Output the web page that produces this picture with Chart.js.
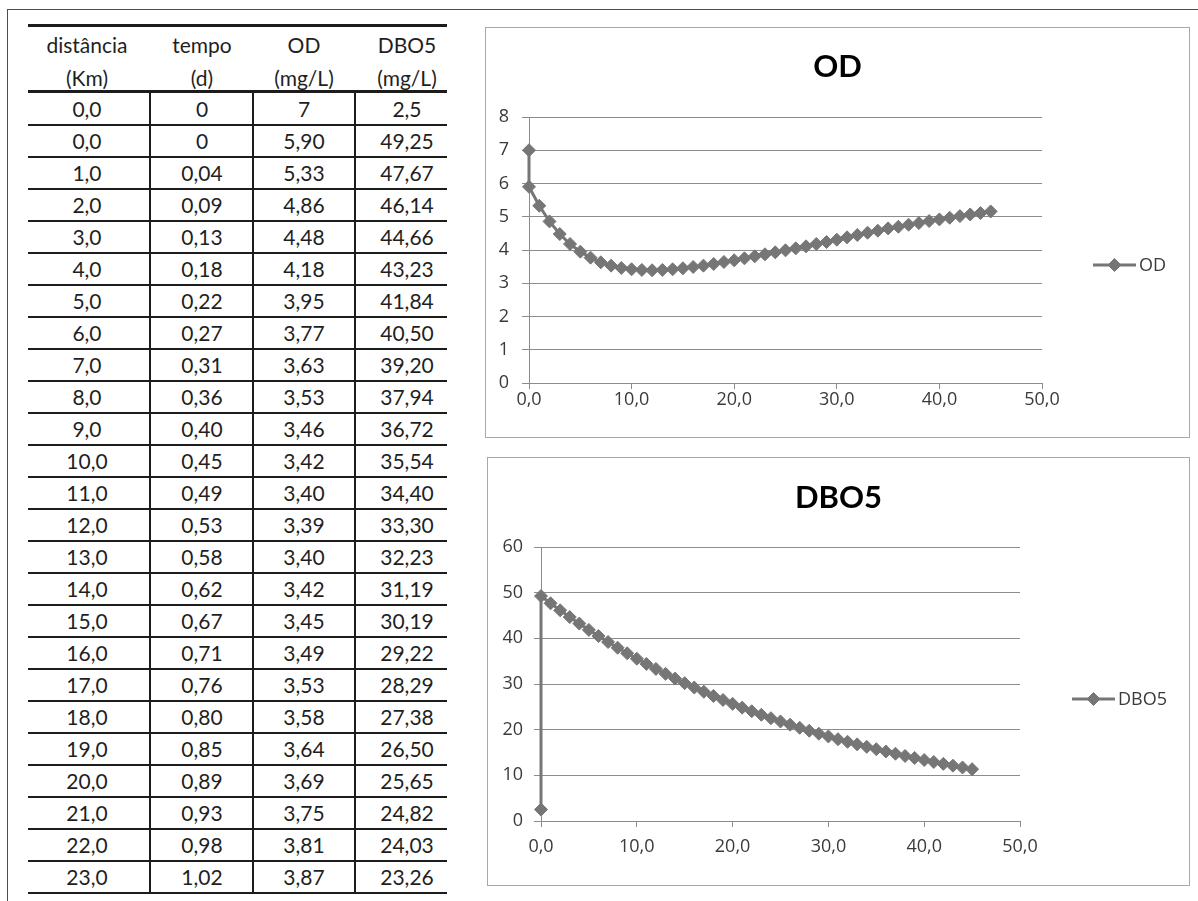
<!DOCTYPE html>
<html>
<head>
<meta charset="utf-8">
<title>OD e DBO5 ao longo do rio</title>
<script src="https://cdn.jsdelivr.net/npm/chart.js@4.4.1/dist/chart.umd.min.js"></script>
<style>
  html, body { margin: 0; padding: 0; background: #fff; overflow: hidden; }
  #page { position: relative; width: 1198px; height: 901px; overflow: hidden; background: #fff; }
  .frame { position: absolute; background: #4d4d4d; }
  .cell { position: absolute; width: 120px; margin-left: -60px; text-align: center; white-space: nowrap;
          font-family: Lato, "Liberation Sans", sans-serif; font-size: 21px; color: #1f1f1f; }
  .rule { position: absolute; background: #1c1c1c; }
  .box { position: absolute; box-sizing: border-box; border: 1px solid #a8a8a8; background: #fff; }
  .box canvas { position: absolute; left: 0; top: 0; }
</style>
</head>
<body>
<div id="page">
  <div class="frame" style="left:7px;top:9px;width:1191px;height:1px;"></div>
  <div class="frame" style="left:7px;top:9px;width:1px;height:892px;"></div>
  <div id="tabela"></div>
  <div class="box" style="left:485px;top:27px;width:705px;height:411px;">
    <canvas id="graficoOD" width="703" height="409"></canvas>
  </div>
  <div class="box" style="left:487px;top:457px;width:703px;height:429px;">
    <canvas id="graficoDBO" width="701" height="427"></canvas>
  </div>
</div>
<script>
// Distância ao longo do rio (km); o primeiro ponto é o rio a montante do lançamento
const distancia = [0, 0, 1, 2, 3, 4, 5, 6, 7, 8, 9, 10, 11, 12, 13, 14, 15, 16, 17, 18, 19, 20,
  21, 22, 23, 24, 25, 26, 27, 28, 29, 30, 31, 32, 33, 34, 35, 36, 37, 38, 39, 40, 41, 42, 43, 44, 45];

// Tempo de percurso (d) das linhas listadas na tabela
const tempo = [0, 0, 0.04, 0.09, 0.13, 0.18, 0.22, 0.27, 0.31, 0.36, 0.40, 0.45, 0.49, 0.53,
  0.58, 0.62, 0.67, 0.71, 0.76, 0.80, 0.85, 0.89, 0.93, 0.98, 1.02];

// Oxigênio dissolvido (mg/L)
const od = [7, 5.90, 5.33, 4.86, 4.48, 4.18, 3.95, 3.77, 3.63, 3.53, 3.46, 3.42, 3.40, 3.39,
  3.40, 3.42, 3.45, 3.49, 3.53, 3.58, 3.64, 3.69, 3.75, 3.81, 3.87, 3.93, 3.99, 4.05, 4.11,
  4.18, 4.24, 4.31, 4.38, 4.45, 4.52, 4.58, 4.65, 4.70, 4.76, 4.81, 4.87, 4.92, 4.97, 5.02,
  5.07, 5.11, 5.16];

// Demanda bioquímica de oxigênio (mg/L)
const dbo5 = [2.5, 49.25, 47.67, 46.14, 44.66, 43.23, 41.84, 40.50, 39.20, 37.94, 36.72, 35.54,
  34.40, 33.30, 32.23, 31.19, 30.19, 29.22, 28.29, 27.38, 26.50, 25.65, 24.82, 24.03, 23.26,
  22.51, 21.79, 21.09, 20.41, 19.76, 19.12, 18.51, 17.91, 17.34, 16.78, 16.24, 15.72, 15.22,
  14.73, 14.25, 13.80, 13.35, 12.92, 12.51, 12.11, 11.72, 11.34];

const cabecalho = [["distância", "(Km)"], ["tempo", "(d)"], ["OD", "(mg/L)"], ["DBO5", "(mg/L)"]];
const eixoXTicks = [0, 10, 20, 30, 40, 50];

// ---------- tabela ----------
const virgula = (s) => s.replace('.', ',');
const fmtDist = (v) => virgula(v.toFixed(1));
const fmtTempo = (v) => v === 0 ? '0' : virgula(v.toFixed(2));
const fmtConc = (v, i) => i === 0 ? virgula(String(v)) : virgula(v.toFixed(2));

(function montarTabela() {
  const tab = document.getElementById('tabela');
  const add = (cls, css, txt) => {
    const d = document.createElement('div');
    d.className = cls;
    d.style.cssText = css;
    if (txt !== undefined) d.textContent = txt;
    tab.appendChild(d);
  };
  const left = 28, right = 447, rowTop = 93, rowH = 32;
  const centros = [87, 202, 304, 407];
  const divisas = [149, 252, 354];
  const linhas = tempo.length;

  add('rule', `left:${left}px;top:24px;width:${right - left}px;height:3px;`);
  add('rule', `left:${left}px;top:90px;width:${right - left}px;height:3px;`);
  cabecalho.forEach((h, c) => {
    add('cell', `left:${centros[c]}px;top:28px;line-height:33px;`, h[0]);
    add('cell', `left:${centros[c]}px;top:61px;line-height:33px;`, h[1]);
  });

  for (let i = 0; i < linhas; i++) {
    const top = rowTop + i * rowH;
    const valores = [fmtDist(distancia[i]), fmtTempo(tempo[i]), fmtConc(od[i], i), fmtConc(dbo5[i], i)];
    valores.forEach((t, c) => add('cell', `left:${centros[c]}px;top:${top}px;line-height:${rowH}px;`, t));
    add('rule', `left:${left}px;top:${top + 31}px;width:${right - left}px;height:2px;`);
  }
  divisas.forEach(x => add('rule', `left:${x}px;top:${rowTop}px;width:2px;height:${linhas * rowH}px;`));
})();

// ---------- gráficos ----------
const fonteEixo = '"Open Sans", "DejaVu Sans", sans-serif';
Chart.defaults.font.family = fonteEixo;
Chart.defaults.font.size = 18;
Chart.defaults.color = '#3a3a3a';

// Título centrado no quadro e legenda ao lado da área de plotagem
const quadro = {
  id: 'quadro',
  afterDraw(chart, args, o) {
    const ctx = chart.ctx, a = chart.chartArea;
    const ds = chart.data.datasets[0];
    ctx.save();
    ctx.fillStyle = '#000';
    ctx.font = 'bold 31px Lato, "Liberation Sans", sans-serif';
    ctx.textAlign = 'center';
    ctx.textBaseline = 'middle';
    ctx.fillText(o.titulo, chart.width / 2, o.tituloY);

    const x0 = a.right + o.legendaDx;
    const y0 = (a.top + a.bottom) / 2 + o.legendaDy;
    ctx.strokeStyle = ds.borderColor;
    ctx.lineWidth = ds.borderWidth;
    ctx.beginPath();
    ctx.moveTo(x0, y0);
    ctx.lineTo(x0 + 43, y0);
    ctx.stroke();
    const r = ds.pointRadius, xm = x0 + 21.5;
    ctx.fillStyle = ds.pointBackgroundColor;
    ctx.strokeStyle = ds.pointBorderColor;
    ctx.lineWidth = ds.pointBorderWidth;
    ctx.beginPath();
    ctx.moveTo(xm - r, y0);
    ctx.lineTo(xm, y0 - r);
    ctx.lineTo(xm + r, y0);
    ctx.lineTo(xm, y0 + r);
    ctx.closePath();
    ctx.fill();
    ctx.stroke();

    ctx.fillStyle = '#3a3a3a';
    ctx.font = '18px ' + fonteEixo;
    ctx.textAlign = 'left';
    ctx.fillText(ds.label, x0 + 46, y0 + 1);
    ctx.restore();
  }
};

function grafico(id, cfg) {
  const cinza = '#767676';
  const grade = '#8c8c8c';
  const pontos = distancia.map((x, i) => ({ x: x, y: cfg.valores[i] }));
  return new Chart(document.getElementById(id), {
    type: 'scatter',
    data: {
      datasets: [{
        label: cfg.rotulo,
        data: pontos,
        showLine: true,
        tension: 0,
        borderColor: cinza,
        borderWidth: 3,
        pointStyle: 'rectRot',
        pointRadius: 6.5,
        pointBorderWidth: 1,
        pointBackgroundColor: cinza,
        pointBorderColor: cinza,
        clip: false
      }]
    },
    options: {
      responsive: false,
      animation: false,
      devicePixelRatio: 1,
      layout: { padding: { top: 89, right: cfg.direita, bottom: 0, left: 0 } },
      plugins: {
        legend: { display: false },
        title: { display: false },
        tooltip: { enabled: false },
        quadro: { titulo: cfg.rotulo, tituloY: cfg.tituloY, legendaDx: cfg.legendaDx, legendaDy: 15 }
      },
      scales: {
        x: {
          type: 'linear',
          min: 0, max: 50,
          afterBuildTicks: (s) => { s.ticks = eixoXTicks.map(v => ({ value: v })); },
          afterFit: (s) => { s.height = cfg.alturaX; },
          grid: { drawOnChartArea: false, drawTicks: true, tickLength: 6, color: grade, lineWidth: 1 },
          border: { color: grade, width: 1 },
          ticks: { padding: cfg.padX, maxRotation: 0, callback: (v) => fmtDist(v) }
        },
        y: {
          min: 0, max: cfg.yMax,
          afterFit: (s) => { s.width = cfg.larguraY; },
          grid: { drawTicks: true, tickLength: 7, color: grade, lineWidth: 1 },
          border: { color: grade, width: 1 },
          ticks: { stepSize: cfg.passoY, padding: cfg.padY, callback: (v) => String(v) }
        }
      }
    },
    plugins: [quadro]
  });
}

grafico('graficoOD', {
  rotulo: 'OD', valores: od, yMax: 8, passoY: 1,
  larguraY: 43, direita: 147, alturaX: 54, padX: 0, padY: 13,
  tituloY: 39, legendaDx: 51
});

grafico('graficoDBO', {
  rotulo: 'DBO5', valores: dbo5, yMax: 60, passoY: 10,
  larguraY: 53, direita: 169, alturaX: 64, padX: 9, padY: 11,
  tituloY: 40, legendaDx: 52
});
</script>
</body>
</html>
